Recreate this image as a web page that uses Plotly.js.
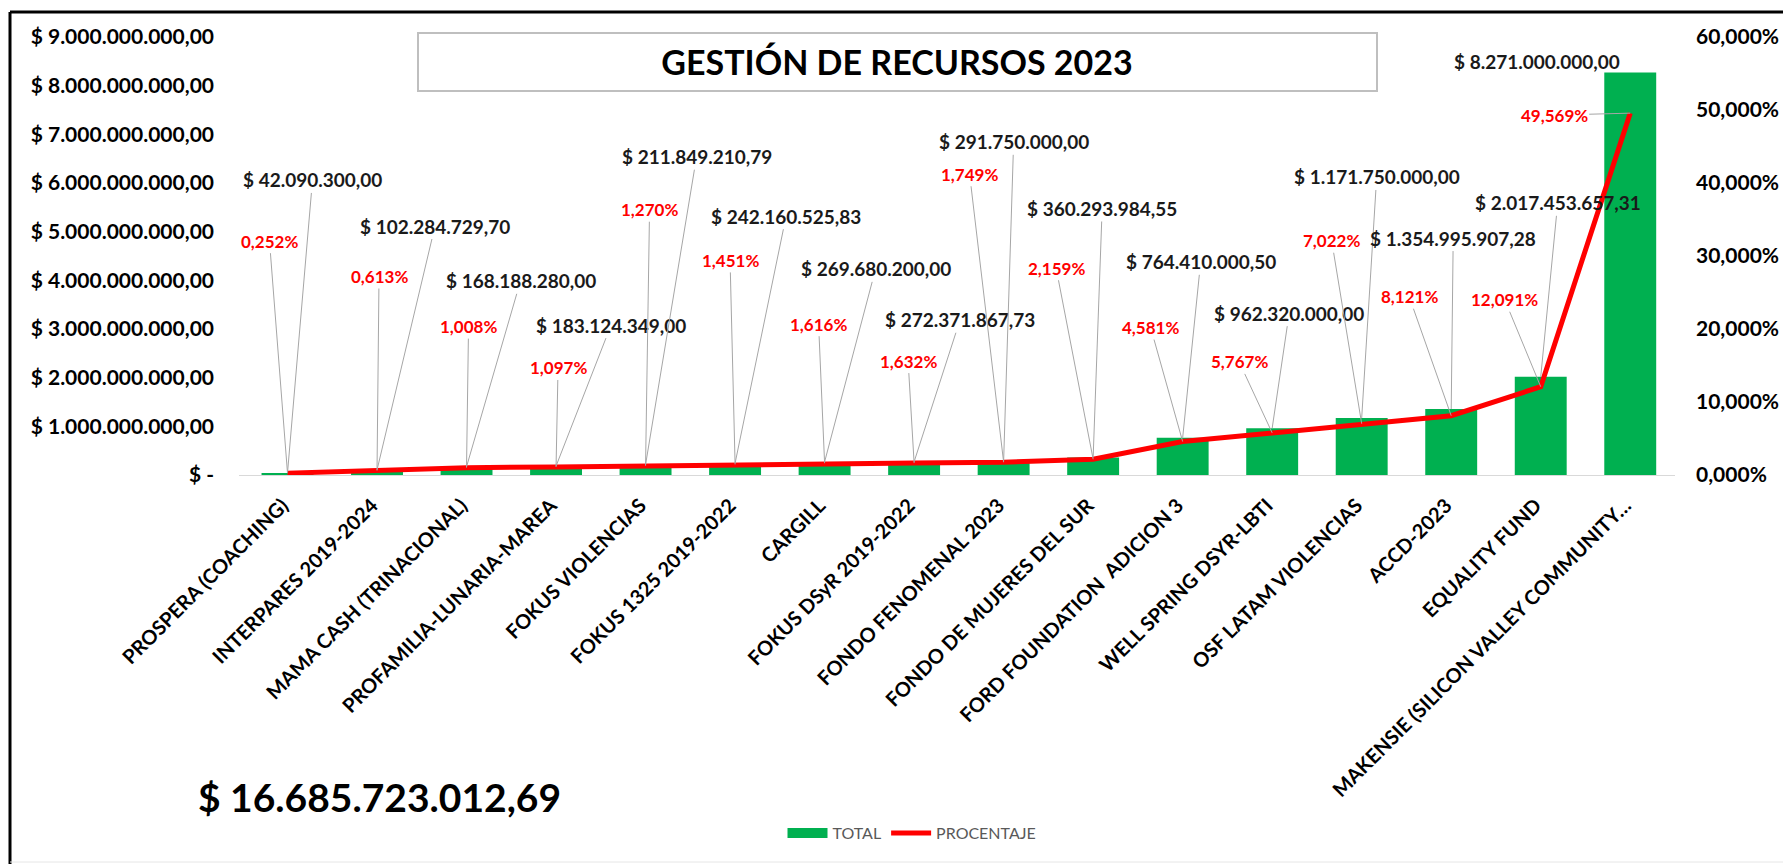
<!DOCTYPE html>
<html>
<head>
<meta charset="utf-8">
<script src="https://cdn.plot.ly/plotly-3.0.1.min.js"></script>
<style>
	html, body { margin: 0; padding: 0; background: #fff; }
	#myChart { width: 1783px; height: 864px; }
</style>
</head>
<body>
<div id="myChart"></div>
<script>
const categories = [
	'PROSPERA (COACHING)', 'INTERPARES 2019-2024', 'MAMA CASH (TRINACIONAL)',
	'PROFAMILIA-LUNARIA-MAREA', 'FOKUS VIOLENCIAS', 'FOKUS 1325 2019-2022', 'CARGILL',
	'FOKUS DSyR 2019-2022', 'FONDO FENOMENAL 2023', 'FONDO DE MUJERES DEL SUR',
	'FORD FOUNDATION\u00a0 ADICION 3', 'WELL SPRING DSYR-LBTI', 'OSF LATAM VIOLENCIAS',
	'ACCD-2023', 'EQUALITY FUND', 'MAKENSIE (SILICON VALLEY COMMUNITY…'
];
const totals = [
	42090300.00, 102284729.70, 168188280.00, 183124349.00, 211849210.79, 242160525.83,
	269680200.00, 272371867.73, 291750000.00, 360293984.55, 764410000.50, 962320000.00,
	1171750000.00, 1354995907.28, 2017453657.31, 8271000000.00
];
const percents = [
	0.252, 0.613, 1.008, 1.097, 1.270, 1.451, 1.616, 1.632,
	1.749, 2.159, 4.581, 5.767, 7.022, 8.121, 12.091, 49.569
];
const leftTickVals = [0, 1e9, 2e9, 3e9, 4e9, 5e9, 6e9, 7e9, 8e9, 9e9];
const leftTickText = [
	'$ -', '$ 1.000.000.000,00', '$ 2.000.000.000,00', '$ 3.000.000.000,00',
	'$ 4.000.000.000,00', '$ 5.000.000.000,00', '$ 6.000.000.000,00',
	'$ 7.000.000.000,00', '$ 8.000.000.000,00', '$ 9.000.000.000,00'
];
const rightTickVals = [0, 10, 20, 30, 40, 50, 60];
const rightTickText = ['0,000%', '10,000%', '20,000%', '30,000%', '40,000%', '50,000%', '60,000%'];

// where Excel put each data label, as pixel offsets from its point
const totalLabelOffsets = [
	[25, -293], [58, -244], [54, -186], [55, -141], [51, -308], [51, -247], [51, -193], [46, -142],
	[10, -319], [9, -249], [18, -176], [17, -115], [15, -241], [2, -171], [17, -174], [-93, -11]
];
const pctLabelOffsets = [
	[-18, -232], [2, -194], [2, -141], [2, -99], [4, -256], [-5, -204], [-6, -139], [-6, -102],
	[-34, -288], [-37, -191], [-32, -114], [-33, -71], [-30, -183], [-42, -119], [-36, -87], [-76, 2]
];

const W = 1783, H = 864;
const M = { l: 239, r: 108, t: 37, b: 389 };
const px2x = px => (px - M.l) / (W - M.l - M.r);
const py2y = py => (H - M.b - py) / (H - M.t - M.b);

function money(v) {
	const [int, dec] = v.toFixed(2).split('.');
	return '$ ' + int.replace(/\B(?=(\d{3})+(?!\d))/g, '.') + ',' + dec;
}
function pct(v) {
	return v.toFixed(3).replace('.', ',') + '%';
}

const FONT = 'Lato, "Open Sans", sans-serif';
const GREEN = '#00B050';

const trace1 = {
	x: categories,
	y: totals,
	name: 'TOTAL',
	type: 'bar',
	yaxis: 'y',
	showlegend: false,
	marker: { color: GREEN }
};

// legend swatch only: Excel shows a wide flat block for the bars
const trace1Key = {
	x: [null],
	y: [null],
	name: 'TOTAL',
	type: 'scatter',
	mode: 'lines',
	line: { color: GREEN, width: 10 }
};

const trace2 = {
	x: categories,
	y: percents,
	name: 'PROCENTAJE',
	type: 'scatter',
	mode: 'lines',
	yaxis: 'y2',
	line: { color: '#FF0000', width: 5 }
};

const annotations = [];
categories.forEach((c, i) => {
	annotations.push({
		x: c, y: totals[i], xref: 'x', yref: 'y',
		text: money(totals[i]),
		ax: totalLabelOffsets[i][0], ay: totalLabelOffsets[i][1],
		showarrow: true, arrowhead: 0, arrowwidth: 1, standoff: 0,
		arrowcolor: i === categories.length - 1 ? 'rgba(0,0,0,0)' : '#A6A6A6',
		font: { family: FONT, size: 19, color: '#1a1a1a', weight: 'bold' }
	});
	annotations.push({
		x: c, y: percents[i], xref: 'x', yref: 'y2',
		text: pct(percents[i]),
		ax: pctLabelOffsets[i][0], ay: pctLabelOffsets[i][1],
		showarrow: true, arrowhead: 0, arrowwidth: 1, standoff: 0,
		arrowcolor: '#A6A6A6',
		font: { family: FONT, size: 17, color: '#FF0000', weight: 'bold' }
	});
});

annotations.push({
	xref: 'paper', yref: 'paper',
	x: px2x(196), y: py2y(797), xanchor: 'left', yanchor: 'middle',
	text: money(totals.reduce((a, b) => a + b, 0)),
	showarrow: false,
	font: { family: FONT, size: 39, color: '#000', weight: 'bold' }
});

const shapes = [
	// title box
	{ type: 'rect', xref: 'paper', yref: 'paper',
		x0: px2x(418), x1: px2x(1377), y0: py2y(91), y1: py2y(33),
		line: { color: '#BFBFBF', width: 2 } },
	// chart frame
	{ type: 'line', xref: 'paper', yref: 'paper',
		x0: px2x(10), x1: px2x(10), y0: py2y(12), y1: py2y(880),
		line: { color: '#000', width: 3 } },
	{ type: 'line', xref: 'paper', yref: 'paper',
		x0: px2x(10), x1: px2x(1800), y0: py2y(12), y1: py2y(12),
		line: { color: '#000', width: 3 } },
	{ type: 'line', xref: 'paper', yref: 'paper',
		x0: px2x(10), x1: px2x(1800), y0: py2y(862), y1: py2y(862),
		line: { color: '#E6E6E6', width: 1 } }
];

const layout = {
	width: W,
	height: H,
	margin: M,
	paper_bgcolor: '#fff',
	plot_bgcolor: '#fff',
	hovermode: false,
	bargap: 0.42,
	title: {
		text: 'GESTIÓN DE RECURSOS 2023',
		xref: 'container', yref: 'container',
		x: 897 / W, y: 1 - 63 / H, xanchor: 'center', yanchor: 'middle',
		font: { family: FONT, size: 34, color: '#000', weight: 'bold' }
	},
	xaxis: {
		type: 'category',
		tickangle: -45,
		ticks: '',
		showgrid: false,
		showline: true,
		linecolor: '#D9D9D9',
		linewidth: 1,
		ticklabelstandoff: 10,
		ticklabelshift: -5,
		tickfont: { family: FONT, size: 20, color: '#000', weight: 'bold' }
	},
	yaxis: {
		range: [0, 9e9],
		tickvals: leftTickVals,
		ticktext: leftTickText,
		ticks: '',
		showgrid: false,
		zeroline: false,
		ticklabelstandoff: 24,
		tickfont: { family: FONT, size: 21, color: '#000', weight: 'bold' }
	},
	yaxis2: {
		overlaying: 'y',
		side: 'right',
		range: [0, 60],
		tickvals: rightTickVals,
		ticktext: rightTickText,
		ticks: '',
		showgrid: false,
		zeroline: false,
		ticklabelstandoff: 20,
		tickfont: { family: FONT, size: 21, color: '#000', weight: 'bold' }
	},
	legend: {
		orientation: 'h',
		x: px2x(912), xanchor: 'center',
		y: py2y(833), yanchor: 'middle',
		font: { family: FONT, size: 16, color: '#595959' },
		itemwidth: 40,
		tracegroupgap: 0
	},
	annotations: annotations,
	shapes: shapes
};

Plotly.newPlot('myChart', [trace1, trace1Key, trace2], layout, { displayModeBar: false });
</script>
</body>
</html>
